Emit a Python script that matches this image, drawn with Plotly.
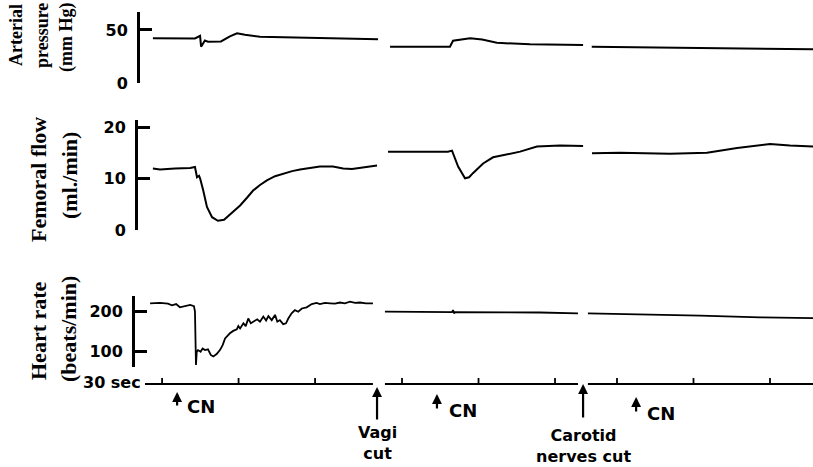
import plotly.graph_objects as go

# ---------------- data (time in seconds) ----------------
pressure_t = [7.8, 18.4, 24.3, 26.3, 26.7, 28.2, 29.4, 34.5, 38.0, 40.8, 43.9, 49.8, 65.5, 81.2, 96.1, None,
              100.8, 112.5, 124.3, 125.5, 132.2, 136.9, 142.7, 155.7, 176.5, None,
              179.9, 200.0, 223.5, 245.0, 266.7]
pressure_v = [42.2, 42.0, 42.0, 44.4, 34.3, 40.1, 39.0, 39.2, 44.0, 46.9, 45.5, 43.7, 42.7, 42.2, 41.2, None,
              34.3, 34.3, 34.3, 39.9, 42.2, 41.0, 38.0, 36.5, 35.9, None,
              34.3, 33.8, 32.8, 32.5, 31.9]

flow_t = [7.8, 10.6, 16.5, 22.4, 24.3, 25.1, 25.9, 26.3, 27.5, 29.0, 31.0, 33.3, 35.7, 38.0, 42.0, 44.7, 47.1,
          49.8, 52.5, 55.7, 58.8, 62.4, 65.5, 69.4, 73.3, 78.4, 82.4, 85.9, 91.0, 95.7, None,
          100.0, 112.5, 123.5, 125.1, 127.5, 130.2, 131.8, 133.3, 137.3, 141.2, 145.1, 151.8, 158.4, 167.5, 176.5, None,
          180.0, 191.0, 210.6, 225.1, 236.9, 249.8, 257.6, 266.7]
flow_v = [12.0, 11.8, 12.0, 12.1, 12.3, 10.3, 10.6, 10.1, 7.8, 4.5, 2.5, 1.8, 2.0, 3.0, 4.8, 6.3, 7.7,
          8.8, 9.7, 10.5, 11.0, 11.5, 11.8, 12.1, 12.4, 12.4, 12.0, 11.9, 12.2, 12.6, None,
          15.3, 15.3, 15.3, 15.5, 12.4, 10.1, 10.3, 11.1, 13.0, 14.2, 14.6, 15.3, 16.3, 16.5, 16.4, None,
          15.0, 15.1, 14.9, 15.1, 16.0, 16.8, 16.5, 16.3]

hr_t = [6.7, 10.6, 13.7, 15.3, 16.9, 18.4, 22.4, 23.4, 23.9, 24.3, 24.7, 25.0, 25.5, 26.5, 27.3, 28.2,
        29.4, 30.5, 31.5, 32.8, 34.1, 35.2, 36.1, 38.0, 39.3, 40.7, 41.3, 42.0, 43.3, 44.2, 45.2, 46.2,
        47.2, 48.7, 49.8, 51.1, 52.2, 53.1, 54.4, 55.7, 56.6, 57.6, 58.9, 60.0, 60.9, 62.2, 63.5, 64.8,
        66.2, 68.1, 70.1, 72.0, 73.3, 75.3, 77.3, 79.2, 81.2, 83.1, 85.1, 87.1, 89.0, 91.4, 94.1, None,
        98.8, 112.5, 125.1, 125.5, 125.9, 126.3, 143.9, 159.6, 174.5, None,
        178.4, 198.8, 222.4, 245.9, 266.7]
hr_v = [221, 222, 220, 216, 219, 211, 217, 214, 214, 200, 67, 100, 104, 100, 108, 104,
        106, 92, 88, 94, 104, 117, 133, 146, 152, 156, 164, 158, 171, 164, 183, 171,
        175, 181, 175, 188, 178, 189, 179, 192, 175, 179, 169, 171, 183, 196, 204, 200,
        208, 211, 219, 222, 219, 222, 221, 220, 223, 221, 225, 222, 223, 221, 221, None,
        200, 200, 199, 204, 196, 199, 199, 198, 196, None,
        196, 194, 190, 186, 184]

# time-marker channel: line segments and 30-s ticks
marker_seg_start = [4.7, 98.8, 178.4]
marker_seg_end = [94.1, 174.5, 266.7]
marker_ticks = [11.4, 41.4, 71.4, 105.5, 135.5, 165.5, 189.8, 219.8, 249.8]

# events
event_t = [17.3, 95.7, 119.2, 176.5, 197.3]
event_label = ["CN", "Vagi<br>cut", "CN", "Carotid<br>nerves cut", "CN"]

pressure_ticks = [0, 50]
flow_ticks = [0, 10, 20]
hr_ticks = [100, 200]

# ---------------- figure ----------------
W, H = 813, 467
ML = 133
PW = W - ML

def py(p):      # pixel row -> paper y
    return 1 - p / H

def px(p):      # pixel column -> paper x
    return (p - ML) / PW

fig = go.Figure()
line_style = dict(color="black", width=2)
fig.add_trace(go.Scatter(x=pressure_t, y=pressure_v, mode="lines", line=line_style,
                         yaxis="y", connectgaps=False))
fig.add_trace(go.Scatter(x=flow_t, y=flow_v, mode="lines", line=line_style,
                         yaxis="y2", connectgaps=False))
fig.add_trace(go.Scatter(x=hr_t, y=hr_v, mode="lines", line=dict(color="black", width=1.8),
                         yaxis="y3", connectgaps=False))

# time marker
mx, my = [], []
for s, e in zip(marker_seg_start, marker_seg_end):
    mx += [s, e, None]
    my += [0, 0, None]
for t in marker_ticks:
    mx += [t, t, None]
    my += [0, 1.2, None]
fig.add_trace(go.Scatter(x=mx, y=my, mode="lines", line=dict(color="black", width=1.8),
                         yaxis="y4"))

tickfont = dict(family="DejaVu Sans", size=16, color="black", weight="bold")
common_y = dict(showline=True, linecolor="black", linewidth=3, ticks="inside", ticklen=12,
                tickwidth=2.5, tickcolor="black", showgrid=False, zeroline=False,
                tickfont=tickfont, ticklabelstandoff=6, anchor="free", fixedrange=True,
                automargin=False)

fig.update_layout(
    template="none",
    width=W, height=H, autosize=False,
    margin=dict(l=ML, r=0, t=0, b=0, pad=0, autoexpand=False),
    paper_bgcolor="white", plot_bgcolor="white",
    showlegend=False, hovermode=False,
    xaxis=dict(domain=[0, 1], range=[0, PW / 2.55], visible=False, fixedrange=True,
               automargin=False),
    yaxis=dict(domain=[py(83.3), py(11.7)], range=[0, 67.1], tickvals=pressure_ticks,
               position=px(138), **common_y),
    yaxis2=dict(domain=[py(230), py(120)], range=[0, 21.48], tickvals=flow_ticks,
                position=px(136), **common_y),
    yaxis3=dict(domain=[py(366.7), py(296)], range=[62.5, 239.25], tickvals=hr_ticks,
                position=px(133), **common_y),
    yaxis4=dict(domain=[py(396), py(372)], range=[-2.4, 2.4], visible=False, anchor="x",
                fixedrange=True, automargin=False),
)

ann = []
serif = "Liberation Serif"
def ylab(text, xc, yc, size):
    ann.append(dict(text=text, x=px(xc), y=py(yc), xref="paper", yref="paper", textangle=-90,
                    showarrow=False, xanchor="center", yanchor="middle",
                    font=dict(family=serif, size=size, color="black", weight="bold")))

ylab("Arterial", 16, 35, 18)
ylab("pressure", 42, 36, 18)
ylab("(mm Hg)", 67, 38, 18)
ylab("Femoral flow", 38, 180, 22)
ylab("(ml./min)", 70, 176, 22)
ylab("Heart rate", 38, 331, 22)
ylab("(beats/min)", 68, 329, 22)

sans = dict(family="DejaVu Sans", color="black", weight="bold")
ann.append(dict(text="30 sec", x=px(143), y=py(382), xref="paper", yref="paper",
                xanchor="right", yanchor="middle", showarrow=False, font=dict(size=16, **sans)))

# arrows: head row, tail row (pixels)
heads = [392, 387, 394, 384, 397]
tails = [407, 421, 410, 419, 413]
for t, h, tl in zip(event_t, heads, tails):
    ann.append(dict(text="", x=t, y=py(h), xref="x", yref="paper", showarrow=True,
                    ax=0, ay=tl - h, arrowhead=2, arrowsize=0.9, arrowwidth=2.2,
                    arrowcolor="black", standoff=0, startstandoff=0))

# event labels
label_pos = [(201, 406, 18), (377, 443, 16), (463, 410, 18), (583, 446, 16), (661, 413, 18)]
for lab, (lx, lyy, fs) in zip(event_label, label_pos):
    ann.append(dict(text=lab, x=px(lx), y=py(lyy), xref="paper", yref="paper",
                    xanchor="center", yanchor="middle", showarrow=False, align="center",
                    font=dict(size=fs, **sans)))

fig.update_layout(annotations=ann)
post = ("document.documentElement.style.margin='0';document.documentElement.style.overflow='hidden';"
        "document.body.style.margin='0';document.body.style.overflow='hidden';")
fig.write_html("out.html", config={"displayModeBar": False, "responsive": False},
               post_script=post)
